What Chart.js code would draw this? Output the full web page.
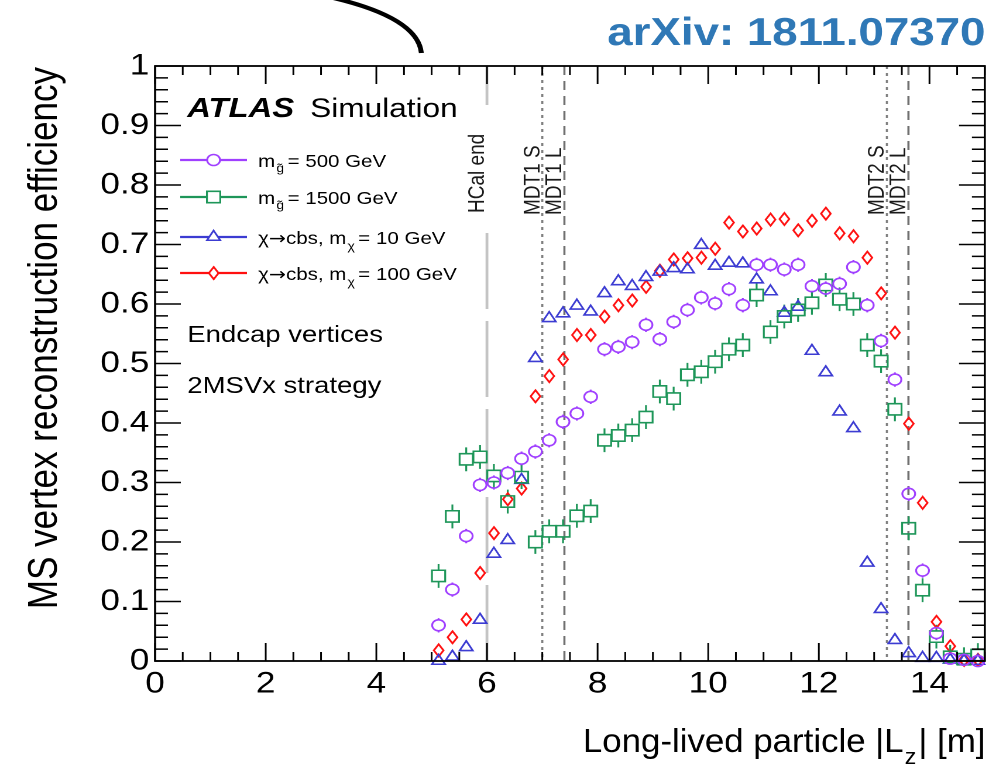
<!DOCTYPE html>
<html>
<head>
<title>MS vertex reconstruction efficiency</title>
<script src="https://cdn.jsdelivr.net/npm/chart.js"></script>
<style>
  html, body { margin: 0; padding: 0; background: #fff; overflow: hidden; }
  /* the reference picture is a bit wider than the plot it came from */
  #wrap { width: 851px; height: 768px; transform: scaleX(1.1704); transform-origin: 0 0; }
</style>
</head>
<body>
<div id="wrap"><canvas id="effChart" width="851" height="768"></canvas></div>
<script>
// bin centres of |Lz| [m]
const binCenters = [5.125, 5.375, 5.625, 5.875, 6.125, 6.375, 6.625, 6.875, 7.125, 7.375,
  7.625, 7.875, 8.125, 8.375, 8.625, 8.875, 9.125, 9.375, 9.625, 9.875,
  10.125, 10.375, 10.625, 10.875, 11.125, 11.375, 11.625, 11.875, 12.125, 12.375,
  12.625, 12.875, 13.125, 13.375, 13.625, 13.875, 14.125, 14.375, 14.625, 14.875];

const effGluino500 = [0.060, 0.120, 0.210, 0.296, 0.300, 0.316, 0.340, 0.352, 0.371, 0.402,
  0.416, 0.444, 0.524, 0.528, 0.536, 0.565, 0.541, 0.570, 0.590, 0.611,
  0.601, 0.625, 0.598, 0.666, 0.666, 0.658, 0.666, 0.630, 0.626, 0.634,
  0.662, 0.598, 0.538, 0.473, 0.281, 0.152, 0.047, 0.004, 0.002, 0.000];

const effGluino1500 = [0.143, 0.243, 0.339, 0.343, 0.311, 0.268, 0.309, 0.200, 0.218, 0.218,
  0.244, 0.252, 0.371, 0.379, 0.388, 0.410, 0.453, 0.441, 0.481, 0.486,
  0.503, 0.524, 0.531, 0.615, 0.553, 0.579, 0.590, 0.602, 0.632, 0.608,
  0.600, 0.531, 0.504, 0.423, 0.223, 0.119, 0.041, 0.007, 0.003, 0.010];

const effChi10 = [0.000, 0.007, 0.023, 0.069, 0.180, 0.203, 0.304, 0.509, 0.576, 0.584,
  0.597, 0.587, 0.618, 0.638, 0.630, 0.645, 0.654, 0.660, 0.658, 0.699,
  0.664, 0.669, 0.668, 0.641, 0.621, 0.585, 0.595, 0.521, 0.485, 0.419,
  0.391, 0.165, 0.087, 0.035, 0.013, 0.005, 0.005, 0.002, 0.000, 0.000];

const effChi100 = [0.018, 0.040, 0.070, 0.148, 0.215, 0.272, 0.290, 0.445, 0.479, 0.507,
  0.548, 0.548, 0.579, 0.598, 0.606, 0.629, 0.656, 0.675, 0.677, 0.678,
  0.693, 0.737, 0.722, 0.727, 0.742, 0.743, 0.724, 0.740, 0.752, 0.719,
  0.714, 0.678, 0.618, 0.552, 0.399, 0.266, 0.066, 0.025, 0.002, 0.002];

const seriesLabels = ['= 500 GeV', '= 1500 GeV', '= 10 GeV', '= 100 GeV'];
const xTickValues = [0, 2, 4, 6, 8, 10, 12, 14];
const yTickValues = [0, 0.1, 0.2, 0.3, 0.4, 0.5, 0.6, 0.7, 0.8, 0.9, 1];
const yTickLabels = ['0', '0.1', '0.2', '0.3', '0.4', '0.5', '0.6', '0.7', '0.8', '0.9', '1'];

// detector boundaries
const boundaryX = [6.0, 7.0, 7.4, 13.23, 13.62];
const boundaryLabels = ['HCal end', 'MDT1 S', 'MDT1 L', 'MDT2 S', 'MDT2 L'];

const FONT = '"Liberation Sans", Arial, Helvetica, sans-serif';
const colPurple = '#a040ff';
const colGreen = '#1e9659';
const colBlue = '#3c3cd2';
const colRed = '#ff1010';

function makeDiamond(color, w, h) {
  const k = 3, pad = 2;
  const c = document.createElement('canvas');
  c.width = (w + 2 * pad) * k;
  c.height = (h + 2 * pad) * k;
  const g = c.getContext('2d');
  g.scale(k, k);
  g.strokeStyle = color;
  g.lineWidth = 1.7;
  const cx = w / 2 + pad, cy = h / 2 + pad;
  g.beginPath();
  g.moveTo(cx, cy - h / 2);
  g.lineTo(cx + w / 2, cy);
  g.lineTo(cx, cy + h / 2);
  g.lineTo(cx - w / 2, cy);
  g.closePath();
  g.stroke();
  const img = new Image();
  img.width = w + 2 * pad;
  img.height = h + 2 * pad;
  img.src = c.toDataURL();
  return img;
}

const diamond = makeDiamond(colRed, 8.5, 12.5);

function pts(vals) {
  return binCenters.map((x, i) => ({ x: x, y: vals[i] }));
}

function drawMarker(ctx, kind, x, y, color) {
  ctx.save();
  ctx.strokeStyle = color;
  ctx.fillStyle = '#fff';
  ctx.lineWidth = 1.6;
  ctx.beginPath();
  if (kind === 'circle') {
    ctx.arc(x, y, 5.5, 0, Math.PI * 2);
  } else if (kind === 'rect') {
    ctx.rect(x - 5.7, y - 5.7, 11.4, 11.4);
  } else if (kind === 'triangle') {
    ctx.moveTo(x, y - 6.5);
    ctx.lineTo(x + 5.63, y + 3.25);
    ctx.lineTo(x - 5.63, y + 3.25);
    ctx.closePath();
  }
  if (kind === 'diamond') {
    ctx.fillRect(x - 4, y - 6, 8, 12);
    ctx.drawImage(diamond, x - diamond.width / 2, y - diamond.height / 2, diamond.width, diamond.height);
  } else {
    ctx.fill();
    ctx.stroke();
  }
  ctx.restore();
}

// runs of text: [text, font, vertical shift, extra gap after]
function drawRuns(ctx, runs, x, y) {
  runs.forEach(r => {
    ctx.font = r[1];
    ctx.fillText(r[0], x, y + r[2]);
    x += ctx.measureText(r[0]).width + r[3];
  });
  return x;
}

function runsWidth(ctx, runs) {
  let w = 0;
  runs.forEach(r => { ctx.font = r[1]; w += ctx.measureText(r[0]).width + r[3]; });
  return w;
}

const atlasDecor = {
  id: 'atlasDecor',
  beforeDatasetsDraw(chart) {
    const ctx = chart.ctx;
    const a = chart.chartArea;
    const xs = chart.scales.x, ys = chart.scales.y;
    ctx.save();
    // boundary lines
    boundaryX.forEach((bx, i) => {
      const px = xs.getPixelForValue(bx);
      ctx.beginPath();
      if (i === 0) {
        ctx.strokeStyle = '#c4c4c4';
        ctx.lineWidth = 2.4;
        ctx.setLineDash([76, 12]);
        ctx.moveTo(px, a.top);
        ctx.lineTo(px, 105);
        ctx.moveTo(px, a.bottom);
        ctx.lineTo(px, 222);
      } else if (i === 1 || i === 3) {
        ctx.strokeStyle = '#808080';
        ctx.lineWidth = 1.8;
        ctx.setLineDash([3, 4]);
        ctx.moveTo(px, a.top);
        ctx.lineTo(px, a.bottom);
      } else {
        ctx.strokeStyle = '#707070';
        ctx.lineWidth = 1.8;
        ctx.setLineDash([9, 6]);
        ctx.moveTo(px, a.top);
        ctx.lineTo(px, a.bottom);
      }
      ctx.stroke();
      ctx.setLineDash([]);
      // label, reading upwards, just left of the line
      ctx.save();
      ctx.translate(px - 2.5, i === 0 ? 213 : 215);
      ctx.rotate(-Math.PI / 2);
      ctx.fillStyle = '#1a1a1a';
      ctx.font = '19px ' + FONT;
      ctx.textAlign = 'left';
      ctx.textBaseline = 'alphabetic';
      ctx.fillText(boundaryLabels[i], 0, 0);
      ctx.restore();
    });
    // error bars outside the markers
    chart.data.datasets.forEach((ds, d) => {
      const meta = chart.getDatasetMeta(d);
      ctx.strokeStyle = ds.borderColor;
      ctx.lineWidth = 1.6;
      meta.data.forEach((el, i) => {
        const v = ds.data[i].y;
        const top = ys.getPixelForValue(v + ds.errBar);
        const bot = ys.getPixelForValue(Math.max(v - ds.errBar, 0));
        ctx.beginPath();
        if (el.y - top > ds.markHalf) { ctx.moveTo(el.x, el.y - ds.markHalf); ctx.lineTo(el.x, top); }
        if (bot - el.y > ds.markHalf) { ctx.moveTo(el.x, el.y + ds.markHalf); ctx.lineTo(el.x, bot); }
        ctx.stroke();
      });
    });
    ctx.restore();
  },
  afterDraw(chart) {
    const ctx = chart.ctx;
    const a = chart.chartArea;
    const xs = chart.scales.x, ys = chart.scales.y;
    ctx.save();
    // frame
    ctx.strokeStyle = '#000';
    ctx.lineWidth = 1.8;
    ctx.strokeRect(a.left, a.top, a.right - a.left, a.bottom - a.top);
    // inward ticks
    ctx.lineWidth = 1.5;
    ctx.beginPath();
    for (let k = 0; k <= 30; k++) {
      const px = xs.getPixelForValue(k * 0.5);
      const len = (k % 4 === 0) ? 18 : 9;
      ctx.moveTo(px, a.bottom); ctx.lineTo(px, a.bottom - len);
      ctx.moveTo(px, a.top); ctx.lineTo(px, a.top + len);
    }
    for (let k = 0; k <= 50; k++) {
      const py = ys.getPixelForValue(k * 0.02);
      const len = (k % 5 === 0) ? 22 : 11;
      ctx.moveTo(a.left, py); ctx.lineTo(a.left + len, py);
      ctx.moveTo(a.right, py); ctx.lineTo(a.right - len, py);
    }
    ctx.stroke();

    ctx.fillStyle = '#000';
    ctx.textBaseline = 'alphabetic';
    ctx.textAlign = 'left';
    // y title
    ctx.save();
    ctx.translate(48.7, 67);
    ctx.rotate(-Math.PI / 2);
    ctx.textAlign = 'right';
    ctx.font = '35px ' + FONT;
    ctx.fillText('MS vertex reconstruction efficiency', 0, 0);
    ctx.restore();
    // x title, right aligned
    ctx.save();
    const xRuns = [['Long-lived particle |L', '33px ' + FONT, 0, 1], ['z', '22px ' + FONT, 12, 2], ['| [m]', '33px ' + FONT, 0, 0]];
    const total = runsWidth(ctx, xRuns);
    ctx.translate(842, 752);
    ctx.scale(344 / total, 1);
    drawRuns(ctx, xRuns, -total, 0);
    ctx.restore();

    // ATLAS Simulation
    ctx.font = 'italic bold 28px ' + FONT;
    ctx.fillText('ATLAS', 160, 117);
    ctx.font = '27px ' + FONT;
    ctx.fillText('Simulation', 265, 117);

    // legend
    const rows = [160, 197, 237, 273];
    const kinds = ['circle', 'rect', 'triangle', 'diamond'];
    const big = '17.5px ' + FONT, small = '12px ' + FONT;
    chart.data.datasets.forEach((ds, d) => {
      const y = rows[d];
      ctx.strokeStyle = ds.borderColor;
      ctx.lineWidth = 2.2;
      ctx.beginPath();
      ctx.moveTo(154, y); ctx.lineTo(211, y);
      ctx.stroke();
      drawMarker(ctx, kinds[d], 182.5, y, ds.borderColor);
      ctx.fillStyle = '#000';
      let runs;
      if (d < 2) {
        runs = [['m', big, 0, 1], ['g\u0303', small, 5, 3], [seriesLabels[d], big, 0, 0]];
      } else {
        runs = [['\u03c7', big, 0, 0], ['\u2192', '17.5px "DejaVu Sans"', 0, 0], ['cbs, m', big, 0, 1],
                ['\u03c7', small, 6, 3], [seriesLabels[d], big, 0, 0]];
      }
      drawRuns(ctx, runs, 220.5, y + 7);
    });

    ctx.font = '23.5px ' + FONT;
    ctx.fillText('Endcap vertices', 160, 342);
    ctx.fillText('2MSVx strategy', 160, 393);

    // arXiv reference and the stray arc from the slide
    ctx.fillStyle = '#2f78b6';
    ctx.font = 'bold 39px ' + FONT;
    ctx.textAlign = 'right';
    ctx.fillText('arXiv: 1811.07370', 842, 45);
    ctx.strokeStyle = '#000';
    ctx.lineWidth = 4.2;
    ctx.beginPath();
    ctx.moveTo(285, -2);
    ctx.quadraticCurveTo(357, 18, 360, 53);
    ctx.stroke();
    ctx.restore();
  }
};

function buildChart() {
  const ctx = document.getElementById('effChart').getContext('2d');
  Chart.defaults.font.family = FONT;
  Chart.defaults.color = '#000';
  new Chart(ctx, {
    type: 'scatter',
    data: {
      datasets: [
        { label: 'gluino 500', data: pts(effGluino500), borderColor: colPurple, backgroundColor: 'rgba(0,0,0,0)',
          pointStyle: 'circle', pointRadius: 5.5, pointBorderWidth: 1.6, errBar: 0.012, markHalf: 5.5, clip: false },
        { label: 'gluino 1500', data: pts(effGluino1500), borderColor: colGreen, backgroundColor: 'rgba(0,0,0,0)',
          pointStyle: 'rect', pointRadius: 8, pointBorderWidth: 1.6, errBar: 0.02, markHalf: 5.7, clip: false },
        { label: 'chi 10', data: pts(effChi10), borderColor: colBlue, backgroundColor: 'rgba(0,0,0,0)',
          pointStyle: 'triangle', pointRadius: 6.5, pointBorderWidth: 1.6, errBar: 0.008, markHalf: 5, clip: false },
        { label: 'chi 100', data: pts(effChi100), borderColor: colRed, backgroundColor: 'rgba(0,0,0,0)',
          pointStyle: diamond, pointRadius: 6, pointBorderWidth: 1.6, errBar: 0.01, markHalf: 6.2, clip: false }
      ]
    },
    options: {
      responsive: false,
      devicePixelRatio: 2,
      animation: false,
      events: [],
      layout: { padding: { top: 66, right: 7.5, bottom: 0, left: 0 } },
      plugins: { legend: { display: false }, tooltip: { enabled: false } },
      scales: {
        x: {
          type: 'linear', min: 0, max: 15,
          grid: { display: false, drawTicks: false },
          border: { display: false },
          afterBuildTicks: (s) => { s.ticks = xTickValues.map(v => ({ value: v })); },
          afterFit: (s) => { s.height = 107; },
          ticks: { font: { size: 30 }, padding: 5, maxRotation: 0, callback: (v) => String(v) }
        },
        y: {
          type: 'linear', min: 0, max: 1,
          grid: { display: false, drawTicks: false },
          border: { display: false },
          afterBuildTicks: (s) => { s.ticks = yTickValues.map(v => ({ value: v })); },
          afterFit: (s) => { s.width = 132.5; },
          ticks: { font: { size: 30 }, padding: 5, callback: (v, i) => yTickLabels[i] }
        }
      }
    },
    plugins: [atlasDecor]
  });
}

if (diamond.complete) buildChart(); else diamond.onload = buildChart;
</script>
</body>
</html>
